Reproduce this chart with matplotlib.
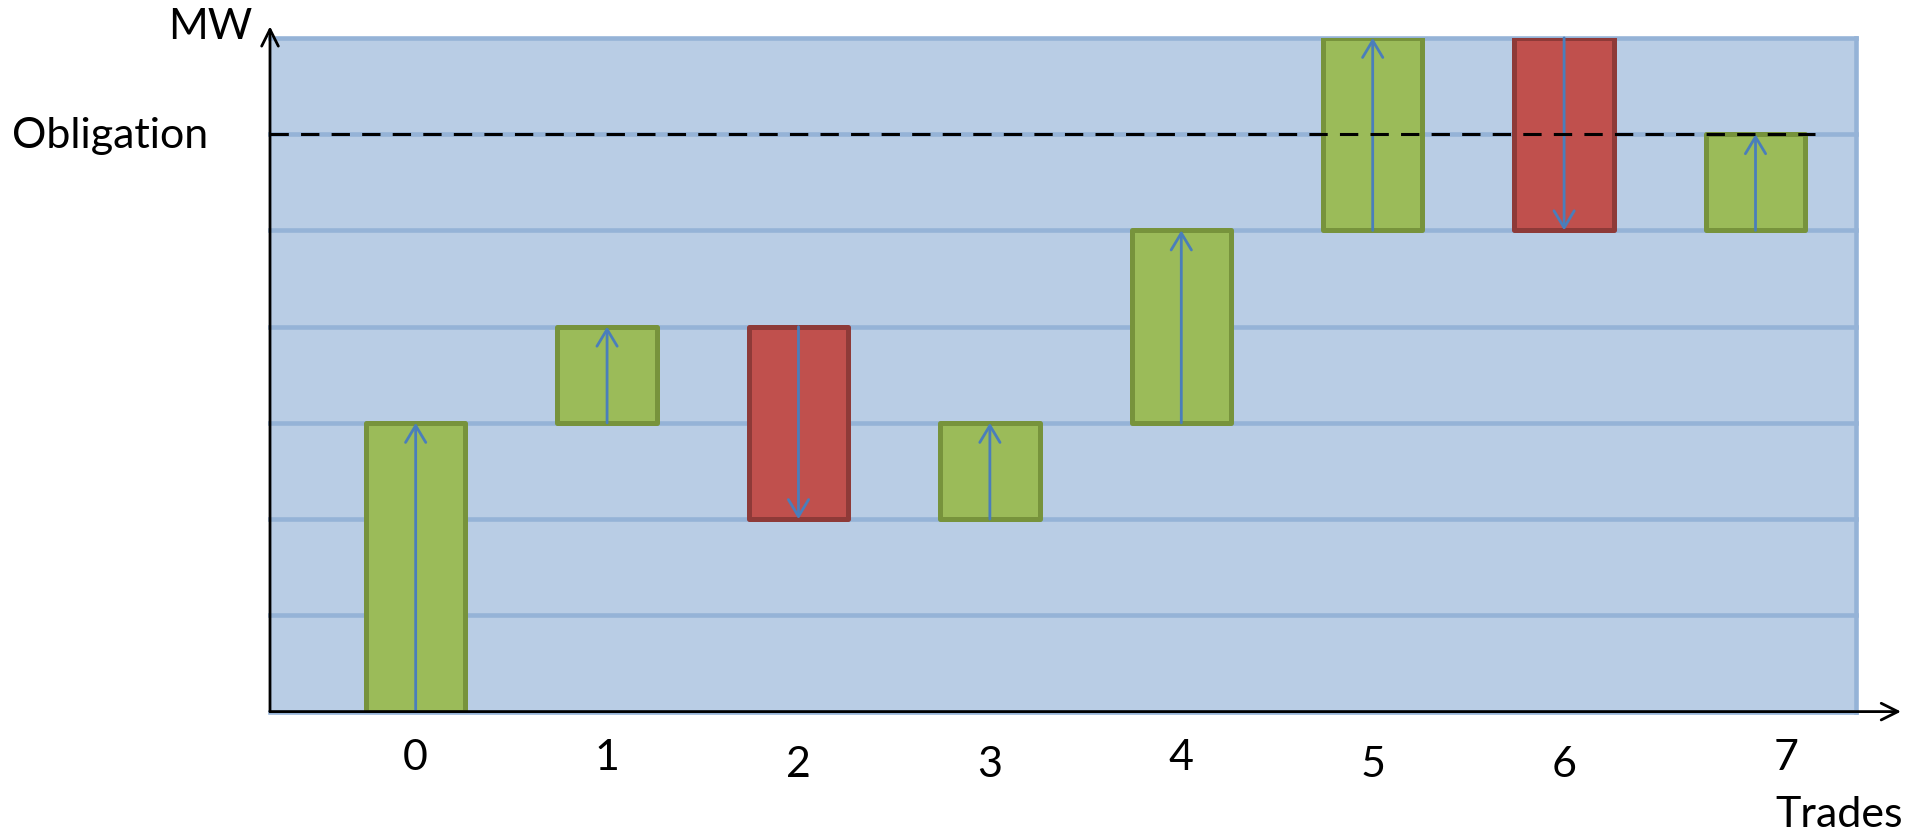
import numpy as np
import matplotlib
matplotlib.use("Agg")
import matplotlib.pyplot as plt
from matplotlib.patches import Rectangle
from matplotlib.transforms import ScaledTranslation

# ---- data ----
trades = [0, 1, 2, 3, 4, 5, 6, 7]
tick_labels = ["0", "1", "2", "3", "4", "5", "6", "7"]
deltas = [3, 1, -2, 1, 2, 2, -2, 1]          # MW change per trade
obligation = 6
levels = [0, 1, 2, 3, 4, 5, 6, 7]             # horizontal grid levels

ends = np.cumsum(deltas)
starts = ends - np.array(deltas)

FONT = ["Lato", "DejaVu Sans"]
plt.rcParams["font.family"] = FONT

W, H, DPI = 1917, 836, 100
fig = plt.figure(figsize=(W / DPI, H / DPI), dpi=DPI)
fig.patch.set_facecolor("white")

left_px, right_px, top_px, bot_px = 270, 1856, 37.9, 711.6
ax = fig.add_axes([left_px / W, 1 - bot_px / H,
                   (right_px - left_px) / W, (bot_px - top_px) / H])
ax.set_xlim(-0.761, 7.525)
ax.set_ylim(0, 7)
ax.set_facecolor("#B9CDE5")
for s in ax.spines.values():
    s.set_visible(False)

grid_c = "#95B3D7"
# outer border and grid lines
for lv in levels:
    ax.axhline(lv, color=grid_c, lw=3.3, zorder=1, clip_on=False)
ax.axvline(7.525, color=grid_c, lw=3.3, zorder=1, clip_on=False)

# bars
bw = 0.52
for x, s0, e0, d in zip(trades, starts, ends, deltas):
    up = d > 0
    fc = "#9BBB59" if up else "#C0504D"
    ec = "#77933C" if up else "#8E3A38"
    ax.add_patch(Rectangle((x - bw / 2, min(s0, e0)), bw, abs(d),
                           facecolor=fc, edgecolor=ec, lw=3.6, zorder=3,
                           joinstyle="round"))
    ax.annotate("", xy=(x, e0), xytext=(x, s0),
                arrowprops=dict(arrowstyle="->,head_length=0.45,head_width=0.27",
                                color="#4A7EBB", lw=2.0,
                                mutation_scale=27, shrinkA=0, shrinkB=0),
                zorder=4)

# obligation line
ax.plot([-0.761, 7.31], [obligation, obligation], color="black", lw=2.2,
        dashes=(6, 4), zorder=5, solid_capstyle="butt")

# axes arrows
ax.annotate("", xy=(7.76, 0), xytext=(-0.761, 0),
            arrowprops=dict(arrowstyle="->", color="black", lw=2.0,
                            mutation_scale=30, shrinkA=0, shrinkB=0),
            annotation_clip=False, zorder=6)
ax.annotate("", xy=(-0.761, 7.12), xytext=(-0.761, 0),
            arrowprops=dict(arrowstyle="->", color="black", lw=2.0,
                            mutation_scale=30, shrinkA=0, shrinkB=0),
            annotation_clip=False, zorder=6)

# tick labels
ax.set_yticks([])
ax.set_xticks(trades)
ax.set_xticklabels(tick_labels, fontsize=31)
ax.tick_params(axis="x", length=0, pad=20)
offsets = {2: (0, -7), 3: (0, -7), 5: (0, -7), 6: (0, -7), 7: (31, 0)}
for i, lab in enumerate(ax.get_xticklabels()):
    dx, dy = offsets.get(i, (0, 0))
    lab.set_transform(lab.get_transform() + ScaledTranslation(dx / DPI, dy / DPI, fig.dpi_scale_trans))

# text labels
fig.text(252 / W, 1 - 27 / H, "MW", fontsize=31, ha="right", va="center")
fig.text(12 / W, 1 - 136 / H, "Obligation", fontsize=31, ha="left", va="center")
fig.text(1903 / W, 1 - 815 / H, "Trades", fontsize=31, ha="right", va="center")

fig.savefig("out.png", dpi=DPI, facecolor="white")
